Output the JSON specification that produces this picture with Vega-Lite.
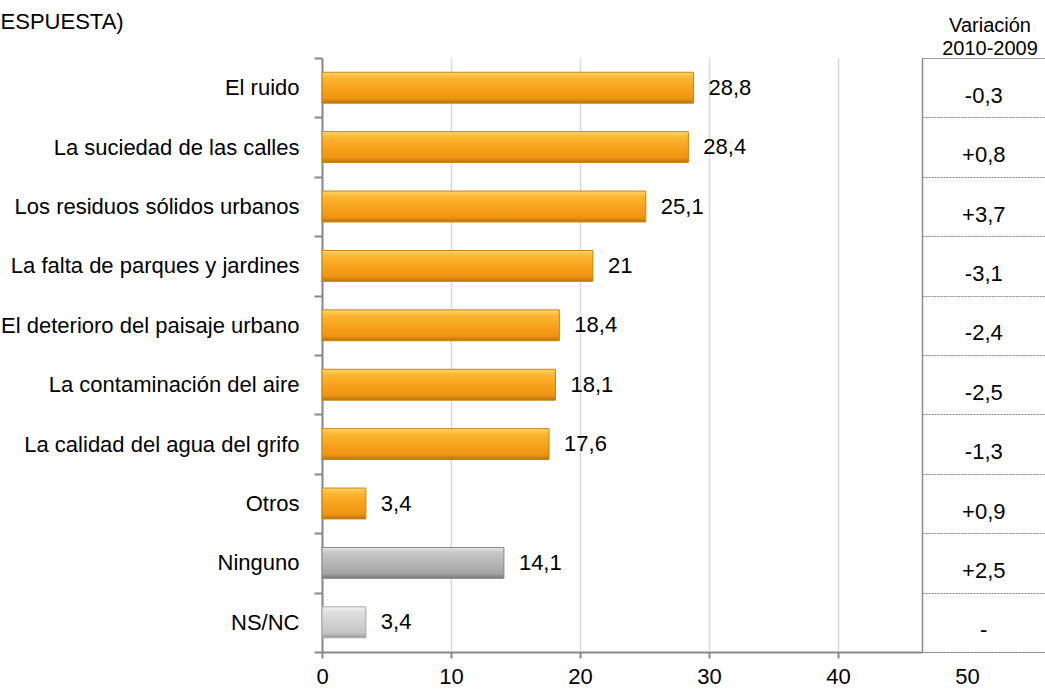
{
  "$schema": "https://vega.github.io/schema/vega-lite/v6.json",
  "background": "white",
  "padding": {"left": 0, "top": 11, "right": 0, "bottom": 0},
  "autosize": {"type": "pad"},
  "bounds": "flush",
  "spacing": 0,
  "config": {"font": "Liberation Sans", "view": {"stroke": null}},
  "data": {"values": [
    {"categoria": "El ruido", "valor": 28.8, "etiqueta": "28,8", "variacion": "-0,3", "grupo": "principal"},
    {"categoria": "La suciedad de las calles", "valor": 28.4, "etiqueta": "28,4", "variacion": "+0,8", "grupo": "principal"},
    {"categoria": "Los residuos sólidos urbanos", "valor": 25.1, "etiqueta": "25,1", "variacion": "+3,7", "grupo": "principal"},
    {"categoria": "La falta de parques y jardines", "valor": 21, "etiqueta": "21", "variacion": "-3,1", "grupo": "principal"},
    {"categoria": "El deterioro del paisaje urbano", "valor": 18.4, "etiqueta": "18,4", "variacion": "-2,4", "grupo": "principal"},
    {"categoria": "La contaminación del aire", "valor": 18.1, "etiqueta": "18,1", "variacion": "-2,5", "grupo": "principal"},
    {"categoria": "La calidad del agua del grifo", "valor": 17.6, "etiqueta": "17,6", "variacion": "-1,3", "grupo": "principal"},
    {"categoria": "Otros", "valor": 3.4, "etiqueta": "3,4", "variacion": "+0,9", "grupo": "principal"},
    {"categoria": "Ninguno", "valor": 14.1, "etiqueta": "14,1", "variacion": "+2,5", "grupo": "ninguno"},
    {"categoria": "NS/NC", "valor": 3.4, "etiqueta": "3,4", "variacion": "-", "grupo": "nsnc"}
  ]},
  "resolve": {"scale": {"y": "independent", "x": "independent"}},
  "hconcat": [
    {
      "width": 600,
      "height": 594,
      "title": {"text": "ESPUESTA)", "anchor": "start", "frame": "bounds", "fontSize": 22, "fontWeight": "normal", "color": "#000000", "offset": 16, "dy": 3},
      "encoding": {
        "y": {
          "field": "categoria", "type": "nominal", "title": null,
          "scale": {"domain": ["El ruido", "La suciedad de las calles", "Los residuos sólidos urbanos", "La falta de parques y jardines", "El deterioro del paisaje urbano", "La contaminación del aire", "La calidad del agua del grifo", "Otros", "Ninguno", "NS/NC"], "paddingInner": 0, "paddingOuter": 0},
          "axis": {"labelFontSize": 22, "labelColor": "#000000", "labelPadding": 15, "labelLimit": 500, "tickSize": 8, "tickColor": "#898989", "tickWidth": 2, "domainColor": "#898989", "domainWidth": 2, "tickBand": "extent", "grid": false}
        },
        "x": {
          "field": "valor", "type": "quantitative", "title": null,
          "scale": {"domain": [0, 46.51], "nice": false, "zero": true},
          "axis": {"values": [0, 10, 20, 30, 40], "labelFontSize": 22, "labelColor": "#000000", "labelPadding": 8, "labelFlush": false, "tickSize": 6, "tickColor": "#898989", "tickWidth": 2, "domainColor": "#898989", "domainWidth": 2, "grid": true, "gridColor": "#D9D9D9", "gridWidth": 1.5}
        }
      },
      "layer": [
        {
          "mark": {"type": "bar", "strokeWidth": 1, "height": {"band": 0.52}},
          "encoding": {
            "color": {
              "condition": [
                {"test": "datum.grupo === 'ninguno'", "value": {"gradient": "linear", "x1": 0, "y1": 0, "x2": 0, "y2": 1, "stops": [{"offset": 0, "color": "#E4E4E4"}, {"offset": 0.18, "color": "#C6C6C6"}, {"offset": 0.55, "color": "#B3B3B3"}, {"offset": 0.85, "color": "#A4A4A4"}, {"offset": 1, "color": "#777777"}]}},
                {"test": "datum.grupo === 'nsnc'", "value": {"gradient": "linear", "x1": 0, "y1": 0, "x2": 0, "y2": 1, "stops": [{"offset": 0, "color": "#F2F2F2"}, {"offset": 0.18, "color": "#DEDEDE"}, {"offset": 0.55, "color": "#D0D0D0"}, {"offset": 0.85, "color": "#C4C4C4"}, {"offset": 1, "color": "#999999"}]}}
              ],
              "value": {"gradient": "linear", "x1": 0, "y1": 0, "x2": 0, "y2": 1, "stops": [{"offset": 0, "color": "#FDD66E"}, {"offset": 0.18, "color": "#FBB631"}, {"offset": 0.55, "color": "#F7A11A"}, {"offset": 0.85, "color": "#EF9412"}, {"offset": 1, "color": "#B57210"}]}
            },
            "stroke": {
              "condition": [
                {"test": "datum.grupo === 'ninguno'", "value": "#8A8A8A"},
                {"test": "datum.grupo === 'nsnc'", "value": "#A8A8A8"}
              ],
              "value": "#C98510"
            }
          }
        },
        {
          "mark": {"type": "text", "align": "left", "baseline": "middle", "dx": 15, "fontSize": 22, "color": "#000000"},
          "encoding": {"text": {"field": "etiqueta"}}
        }
      ]
    },
    {
      "width": 126,
      "height": 594,
      "view": {"fill": "white", "stroke": "#8C8C8C", "strokeDash": [2, 1]},
      "title": {"text": ["Variación", "2010-2009"], "fontSize": 20, "fontWeight": "normal", "color": "#000000", "anchor": "middle", "offset": -1, "lineHeight": 23, "dx": 5},
      "mark": {"type": "text", "fontSize": 22, "baseline": "middle", "dy": 8, "color": "#000000"},
      "encoding": {
        "y": {
          "field": "categoria", "type": "nominal", "title": null,
          "scale": {"domain": ["El ruido", "La suciedad de las calles", "Los residuos sólidos urbanos", "La falta de parques y jardines", "El deterioro del paisaje urbano", "La contaminación del aire", "La calidad del agua del grifo", "Otros", "Ninguno", "NS/NC"], "paddingInner": 0, "paddingOuter": 0},
          "axis": {"labels": false, "ticks": false, "domain": true, "domainColor": "#8C8C8C", "domainWidth": 1.5, "grid": true, "gridColor": "#8C8C8C", "gridDash": [2, 1], "gridWidth": 1, "tickBand": "extent"}
        },
        "x": {
          "datum": 51.3, "type": "quantitative", "title": null,
          "scale": {"domain": [46.51, 56.28], "nice": false, "zero": false},
          "axis": {"values": [50], "labelFontSize": 22, "labelColor": "#000000", "labelPadding": 14, "labelFlush": false, "ticks": false, "tickSize": 0, "domain": false, "grid": false}
        },
        "text": {"field": "variacion"}
      }
    }
  ]
}
